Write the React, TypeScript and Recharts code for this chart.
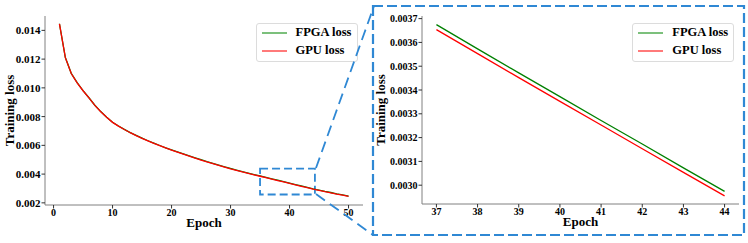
import { LineChart, Line, XAxis, YAxis, Legend, ReferenceArea } from 'recharts'

const FONT = "'Liberation Serif', 'Times New Roman', Times, serif"

// values
const epochs = [
  1, 2, 3, 4, 5, 6, 7, 8, 9, 10, 11, 12, 13, 14, 15, 16, 17, 18, 19, 20, 21, 22, 23, 24, 25,
  26, 27, 28, 29, 30, 31, 32, 33, 34, 35, 36, 37, 38, 39, 40, 41, 42, 43, 44, 45, 46, 47, 48, 49, 50,
]
const fpgaLoss = [
  0.01446, 0.01211, 0.01101, 0.01036, 0.00981, 0.00931, 0.00879, 0.00835, 0.00796, 0.00761,
  0.00735, 0.00711, 0.00689, 0.00669, 0.0065, 0.00632, 0.00615, 0.00599, 0.00583, 0.00568,
  0.00554, 0.0054, 0.00527, 0.00513, 0.005, 0.00487, 0.00475, 0.00463, 0.00451, 0.00439,
  0.00428, 0.00417, 0.00407, 0.00397, 0.00387, 0.00377, 0.003675, 0.003573, 0.003472, 0.003372,
  0.003272, 0.003173, 0.003073, 0.002974, 0.00289, 0.0028, 0.00272, 0.00263, 0.00255, 0.00247,
]
const gpuLoss = [
  0.01445, 0.0121, 0.011, 0.01035, 0.0098, 0.0093, 0.00878, 0.00834, 0.00795, 0.0076,
  0.00734, 0.0071, 0.00688, 0.00668, 0.00649, 0.00631, 0.00614, 0.00598, 0.00582, 0.00567,
  0.00553, 0.00539, 0.00525, 0.00511, 0.00498, 0.00485, 0.00473, 0.00461, 0.00449, 0.00437,
  0.00426, 0.00415, 0.00405, 0.00395, 0.00385, 0.00375, 0.003654, 0.003553, 0.003452, 0.003352,
  0.003253, 0.003153, 0.003054, 0.002955, 0.00287, 0.00278, 0.0027, 0.00261, 0.00253, 0.00245,
]
const zoomEpochs = [37, 38, 39, 40, 41, 42, 43, 44]

const seriesNames = ['FPGA loss', 'GPU loss']
const lineColors = ['#008000', '#ff0000']
const legendColors = ['#7cc07c', '#ff7a7a']

const fullTicksX = [0, 10, 20, 30, 40, 50]
const fullTicksY = [0.002, 0.004, 0.006, 0.008, 0.01, 0.012, 0.014]
const zoomTicksX = [37, 38, 39, 40, 41, 42, 43, 44]
const zoomTicksY = [0.003, 0.0031, 0.0032, 0.0033, 0.0034, 0.0035, 0.0036, 0.0037]

// zoom window drawn on the full curve
const boxEpochs = [35, 44.3]
const boxLoss = [0.00258, 0.00438]

const fullData = epochs.map((e, i) => ({ epoch: e, fpga: fpgaLoss[i], gpu: gpuLoss[i] }))
const zoomData = fullData.filter((d) => zoomEpochs.includes(d.epoch))

const BLUE = '#2f88d4'
const SPINE = '#808080'

function LossLegend() {
  return (
    <div
      style={{
        width: 102,
        height: 39,
        border: '1px solid #dcdcdc',
        borderRadius: 3,
        background: '#fff',
        boxSizing: 'border-box',
        position: 'relative',
        fontFamily: FONT,
        fontWeight: 'bold',
        fontSize: 12.5,
        color: '#000',
      }}
    >
      {seriesNames.map((name, i) => (
        <div
          key={name}
          style={{ position: 'absolute', left: 5, top: 1.5 + i * 18.3, height: 15, display: 'flex', alignItems: 'center' }}
        >
          <span style={{ display: 'inline-block', width: 25, height: 2, background: legendColors[i] }} />
          <span style={{ marginLeft: 9, lineHeight: '15px', whiteSpace: 'nowrap' }}>{name}</span>
        </div>
      ))}
    </div>
  )
}

const labelStyle = { fontFamily: FONT, fontWeight: 'bold', fontSize: 13, fill: '#000' }

function LossChart(props: {
  data: any[]
  width: number
  margin: any
  yWidth: number
  xDomain: number[]
  yDomain: number[]
  xTicks: number[]
  yTicks: number[]
  yDigits: number
  yFont: number
  yLabelOffset: number
  legendLeft: number
  box?: boolean
}) {
  const tickFont = { fill: '#000', fontFamily: FONT, fontWeight: 'bold' }
  return (
    <LineChart width={props.width} height={243} data={props.data} margin={props.margin} style={{ fontFamily: FONT }}>
      <XAxis
        dataKey="epoch"
        type="number"
        domain={props.xDomain}
        ticks={props.xTicks}
        allowDataOverflow
        tick={{ ...tickFont, fontSize: 10 }}
        tickSize={3.5}
        tickMargin={0.5}
        tickLine={{ stroke: '#333' }}
        axisLine={{ stroke: SPINE }}
        height={30}
        label={{ value: 'Epoch', position: 'insideBottom', offset: 8, style: labelStyle }}
      />
      <XAxis xAxisId="top" orientation="top" type="number" domain={props.xDomain} height={0} tick={false} tickLine={false} axisLine={{ stroke: SPINE }} />
      <YAxis
        type="number"
        domain={props.yDomain}
        ticks={props.yTicks}
        allowDataOverflow
        width={props.yWidth}
        tick={{ ...tickFont, fontSize: props.yFont }}
        tickFormatter={(v: number) => v.toFixed(props.yDigits)}
        tickSize={3.5}
        tickMargin={1}
        tickLine={{ stroke: '#333' }}
        axisLine={{ stroke: SPINE }}
        label={{ value: 'Training loss', angle: -90, position: 'insideLeft', offset: props.yLabelOffset, style: { ...labelStyle, textAnchor: 'middle' } }}
      />
      <YAxis yAxisId="right" orientation="right" type="number" domain={props.yDomain} width={0} tick={false} tickLine={false} axisLine={{ stroke: SPINE }} />
      <Line dataKey="fpga" name={seriesNames[0]} stroke={lineColors[0]} strokeWidth={1.3} dot={false} isAnimationActive={false} />
      <Line dataKey="gpu" name={seriesNames[1]} stroke={lineColors[1]} strokeWidth={1.3} dot={false} isAnimationActive={false} />
      {props.box && (
        <ReferenceArea
          x1={boxEpochs[0]}
          x2={boxEpochs[1]}
          y1={boxLoss[0]}
          y2={boxLoss[1]}
          fill="none"
          fillOpacity={0}
          stroke={BLUE}
          strokeWidth={1.8}
          strokeDasharray="8 4"
        />
      )}
      <Legend
        layout="vertical"
        align="center"
        verticalAlign="middle"
        content={() => <LossLegend />}
        wrapperStyle={{ left: props.legendLeft, top: 22.5, width: 102, height: 39 }}
      />
    </LineChart>
  )
}

export default function App() {
  return (
    <div style={{ position: 'absolute', left: 0, top: 0, width: 748, height: 243, background: '#fff', fontFamily: FONT }}>
      <div style={{ position: 'absolute', left: 0, top: 0 }}>
        <LossChart
          data={fullData}
          width={370}
          margin={{ top: 16, right: 7, bottom: 8, left: 0 }}
          yWidth={45}
          xDomain={[-1.45, 52.45]}
          yDomain={[0.00185, 0.015]}
          xTicks={fullTicksX}
          yTicks={fullTicksY}
          yDigits={3}
          yFont={11}
          yLabelOffset={9}
          legendLeft={255.5}
          box
        />
      </div>
      <div style={{ position: 'absolute', left: 370, top: 0 }}>
        <LossChart
          data={zoomData}
          width={378}
          margin={{ top: 16, right: 9, bottom: 9, left: 0 }}
          yWidth={52}
          xDomain={[36.65, 44.35]}
          yDomain={[0.002921, 0.003711]}
          xTicks={zoomTicksX}
          yTicks={zoomTicksY}
          yDigits={4}
          yFont={10}
          yLabelOffset={10}
          legendLeft={262.3}
        />
      </div>
      <svg width={748} height={243} style={{ position: 'absolute', left: 0, top: 0, pointerEvents: 'none' }}>
        <rect x={373} y={6} width={371} height={229} fill="none" stroke={BLUE} strokeWidth={2.2} strokeDasharray="10 4" />
        <line x1={316} y1={168} x2={374} y2={6} stroke={BLUE} strokeWidth={1.8} strokeDasharray="11 6" />
        <line x1={316} y1={194} x2={373} y2={235} stroke={BLUE} strokeWidth={1.8} strokeDasharray="11 6" />
      </svg>
    </div>
  )
}
